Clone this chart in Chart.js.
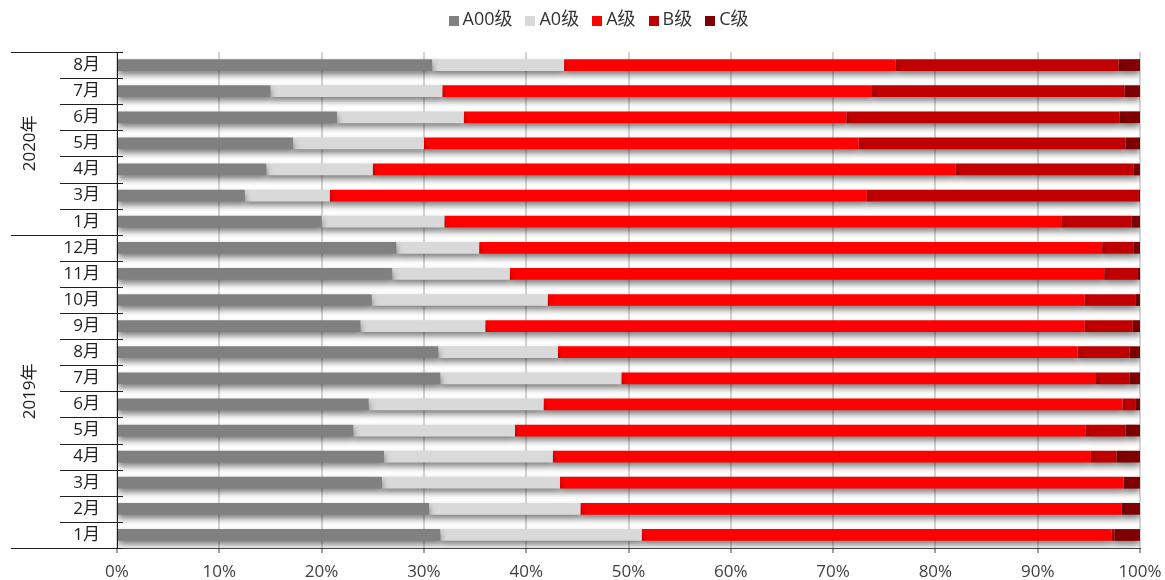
<!DOCTYPE html>
<html>
<head>
<meta charset="utf-8">
<script src="https://cdn.jsdelivr.net/npm/chart.js@4/dist/chart.umd.min.js"></script>
<style>
  html, body { margin: 0; padding: 0; background: #ffffff; }
  #wrap { width: 1165px; height: 580px; position: relative; }
</style>
</head>
<body>
<div id="wrap"><canvas id="c"></canvas></div>
<script>
// Monthly share of new-energy passenger car sales by vehicle class (%), newest first
const months = ['8月', '7月', '6月', '5月', '4月', '3月', '1月',
                '12月', '11月', '10月', '9月', '8月', '7月', '6月', '5月', '4月', '3月', '2月', '1月'];
const yearLabels = ['2020年', '2019年'];
const yearSpans = [7, 12];

const seriesNames = ['A00级', 'A0级', 'A级', 'B级', 'C级'];
const a00 = [30.8, 15.0, 21.5, 17.2, 14.6, 12.5, 20.0,
             27.3, 26.9, 24.9, 23.8, 31.4, 31.6, 24.6, 23.1, 26.1, 25.9, 30.5, 31.6];
const a0  = [12.9, 16.8, 12.4, 12.8, 10.4, 8.3, 12.0,
             8.1, 11.5, 17.2, 12.2, 11.7, 17.7, 17.1, 15.8, 16.5, 17.4, 14.8, 19.7];
const aCls = [32.4, 42.0, 37.4, 42.5, 57.0, 52.5, 60.3,
             60.9, 58.1, 52.5, 58.6, 50.8, 46.4, 56.6, 55.8, 52.6, 55.1, 52.9, 45.9];
const bCls = [21.8, 24.7, 26.7, 26.1, 17.4, 26.6, 6.9,
             3.1, 3.3, 5.0, 4.7, 5.1, 3.3, 1.3, 3.9, 2.5, 0.0, 0.0, 0.3];
const cCls = [2.1, 1.5, 2.0, 1.4, 0.6, 0.1, 0.8,
             0.6, 0.2, 0.4, 0.7, 1.0, 1.0, 0.4, 1.4, 2.3, 1.6, 1.8, 2.5];
const xTicks = [0, 10, 20, 30, 40, 50, 60, 70, 80, 90, 100];

const colors = ['#808080', '#d9d9d9', '#ff0000', '#c00000', '#7f0000'];
const FONT = '"Open Sans", "Noto Sans CJK SC", sans-serif';
const TEXT = '#1f1f1f';

// soft drop shadow under the bars
const barShadow = {
  id: 'barShadow',
  beforeDatasetsDraw(chart) {
    const c = chart.ctx;
    c.save();
    c.shadowColor = 'rgba(0,0,0,0.5)';
    c.shadowBlur = 6;
    c.shadowOffsetX = 0;
    c.shadowOffsetY = 4;
  },
  afterDatasetsDraw(chart) { chart.ctx.restore(); }
};

// two-level category axis: month separators plus rotated year labels
const groupAxis = {
  id: 'groupAxis',
  afterDraw(chart) {
    const c = chart.ctx;
    const y = chart.scales.y;
    const area = chart.chartArea;
    const axisX = area.left;
    const n = months.length;
    const edge = i => {
      if (i <= 0) return y.getPixelForTick(0) - (y.getPixelForTick(1) - y.getPixelForTick(0)) / 2;
      if (i >= n) return y.getPixelForTick(n - 1) + (y.getPixelForTick(n - 1) - y.getPixelForTick(n - 2)) / 2;
      return (y.getPixelForTick(i - 1) + y.getPixelForTick(i)) / 2;
    };
    const groupEdges = [0];
    yearSpans.forEach(s => groupEdges.push(groupEdges[groupEdges.length - 1] + s));
    c.save();
    c.strokeStyle = TEXT;
    c.lineWidth = 1;
    for (let i = 0; i <= n; i++) {
      const py = Math.round(edge(i)) + 0.5;
      const isGroup = groupEdges.includes(i);
      c.beginPath();
      c.moveTo(isGroup ? 11 : 60, py);
      c.lineTo(axisX + 6, py);
      c.stroke();
    }
    c.fillStyle = TEXT;
    c.font = '17px ' + FONT;
    c.textAlign = 'center';
    c.textBaseline = 'middle';
    for (let g = 0; g < yearLabels.length; g++) {
      const cy = (edge(groupEdges[g]) + edge(groupEdges[g + 1])) / 2;
      c.save();
      c.translate(30, cy);
      c.rotate(-Math.PI / 2);
      c.fillText(yearLabels[g], 0, 0);
      c.restore();
    }
    c.restore();
  }
};

// compact legend row above the plot
const topLegend = {
  id: 'topLegend',
  afterDraw(chart) {
    const c = chart.ctx;
    c.save();
    c.font = '18px ' + FONT;
    c.textBaseline = 'middle';
    c.textAlign = 'left';
    const items = chart.data.datasets.map(d => ({
      text: d.label, color: d.backgroundColor, w: c.measureText(d.label).width
    }));
    const box = 10, gapIn = 4, gapOut = 13;
    const total = items.reduce((s, it) => s + box + gapIn + it.w, 0) + gapOut * (items.length - 1);
    let x = chart.width / 2 + 16 - total / 2;
    items.forEach(it => {
      c.fillStyle = it.color;
      c.fillRect(Math.round(x), 16, box, box);
      x += box + gapIn;
      c.fillStyle = '#333333';
      c.fillText(it.text, x, 20);
      x += it.w + gapOut;
    });
    c.restore();
  }
};

const data = {
  labels: months,
  datasets: [a00, a0, aCls, bCls, cCls].map((vals, i) => ({
    label: seriesNames[i],
    data: vals,
    backgroundColor: colors[i],
    borderWidth: 0,
    barPercentage: 0.45,
    categoryPercentage: 1.0
  }))
};

new Chart(document.getElementById('c'), {
  type: 'bar',
  data,
  plugins: [barShadow, groupAxis, topLegend],
  options: {
    indexAxis: 'y',
    responsive: true,
    maintainAspectRatio: false,
    animation: false,
    layout: { padding: { left: 0, right: 25, top: 52, bottom: 0 } },
    plugins: {
      legend: { display: false },
      tooltip: { enabled: false }
    },
    scales: {
      x: {
        stacked: true,
        min: 0,
        max: 100,
        afterBuildTicks(scale) { scale.ticks = xTicks.map(v => ({ value: v })); },
        afterFit(scale) {
          scale.height = 32;
          scale.paddingLeft = 0;
          scale.paddingRight = 0;
        },
        ticks: {
          color: '#404040',
          font: { family: FONT, size: 17 },
          padding: 9,
          callback: v => v + '%'
        },
        grid: {
          color: '#d4d4d4',
          lineWidth: 2,
          tickColor: '#404040',
          tickLength: 5,
          tickWidth: 1
        },
        border: { display: true, color: '#404040', width: 1 }
      },
      y: {
        stacked: true,
        afterFit(scale) { scale.width = 117; },
        ticks: {
          color: TEXT,
          font: { family: FONT, size: 17 },
          padding: 17
        },
        grid: { display: false, drawTicks: false },
        border: { display: true, color: TEXT, width: 1 }
      }
    }
  }
});
</script>
</body>
</html>
